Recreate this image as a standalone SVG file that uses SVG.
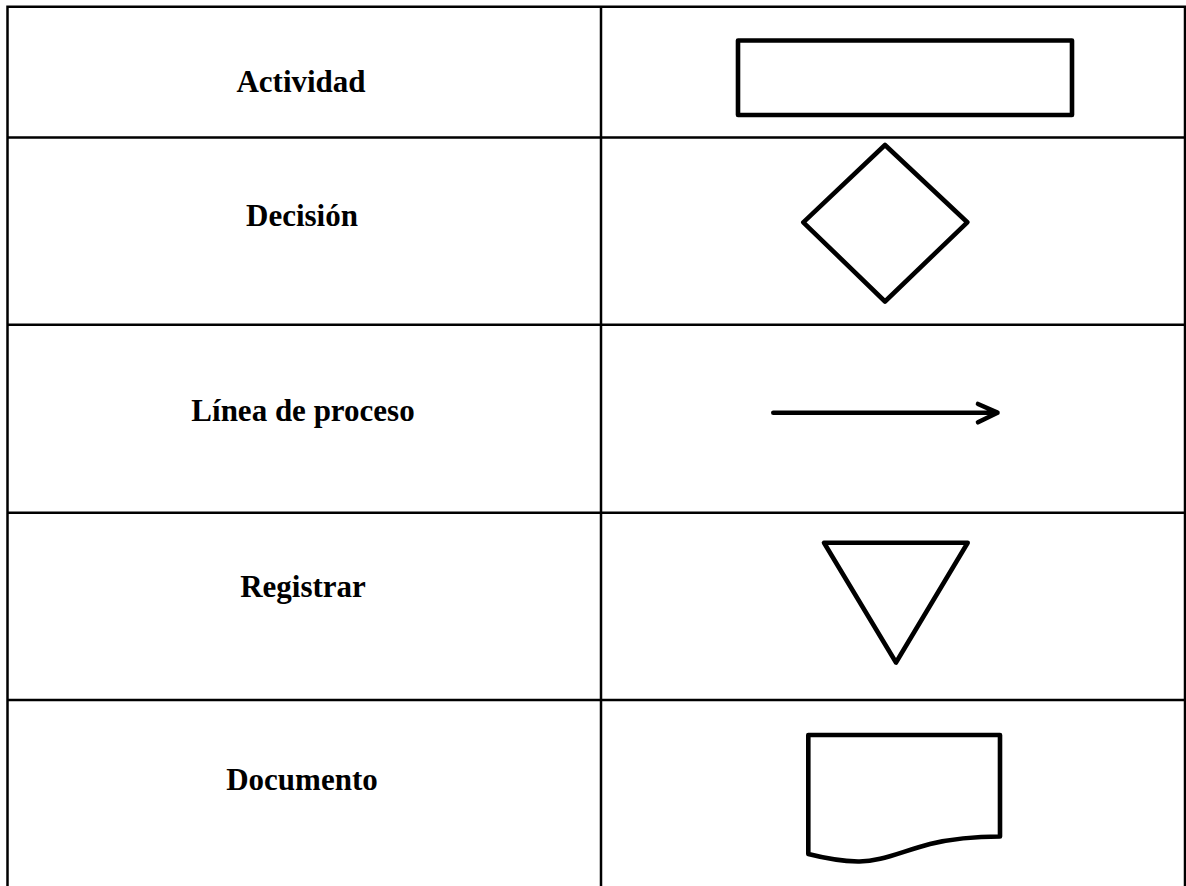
<svg xmlns="http://www.w3.org/2000/svg" width="1186" height="886" viewBox="0 0 1186 886">
<style>
.grid{stroke:#000;stroke-width:2.5;fill:none}
.shape{stroke:#000;stroke-width:4.6;fill:none;stroke-linejoin:round;stroke-linecap:round}
.lbl{font-family:"Liberation Serif","Times New Roman",serif;font-weight:bold;font-size:31px;fill:#000;text-anchor:middle}
</style>
<rect width="1186" height="886" fill="#fff"/>
<g id="table">
<path class="grid" d="M7.5,886 V6.7 H1185 V886 M601,6.7 V886 M7.5,137.5 H1185 M7.5,324.7 H1185 M7.5,512.7 H1185 M7.5,700 H1185"/>
</g>
<g id="row-actividad">
<text class="lbl" x="301" y="92">Actividad</text>
<rect class="shape" x="738" y="40.5" width="334" height="74.5"/>
</g>
<g id="row-decision">
<text class="lbl" x="302" y="226">Decisión</text>
<polygon class="shape" points="885,145 967.3,222.3 885,301.5 803.3,222.3"/>
</g>
<g id="row-linea">
<text class="lbl" x="303" y="421">Línea de proceso</text>
<path class="shape" d="M773.3,412.7 H997 M978,404 L997.5,412.7 L978,422.3"/>
</g>
<g id="row-registrar">
<text class="lbl" x="303" y="597">Registrar</text>
<polygon class="shape" points="824,542.7 967.7,542.7 896,662.5"/>
</g>
<g id="row-documento">
<text class="lbl" x="302" y="790">Documento</text>
<path class="shape" d="M808.3,854 V735 H1000 V836.5 C975,836.5 955,838 930,844 C900,852 880,862 858,861.5 C838,861 822,857.5 808.3,854 Z"/>
</g>
</svg>
